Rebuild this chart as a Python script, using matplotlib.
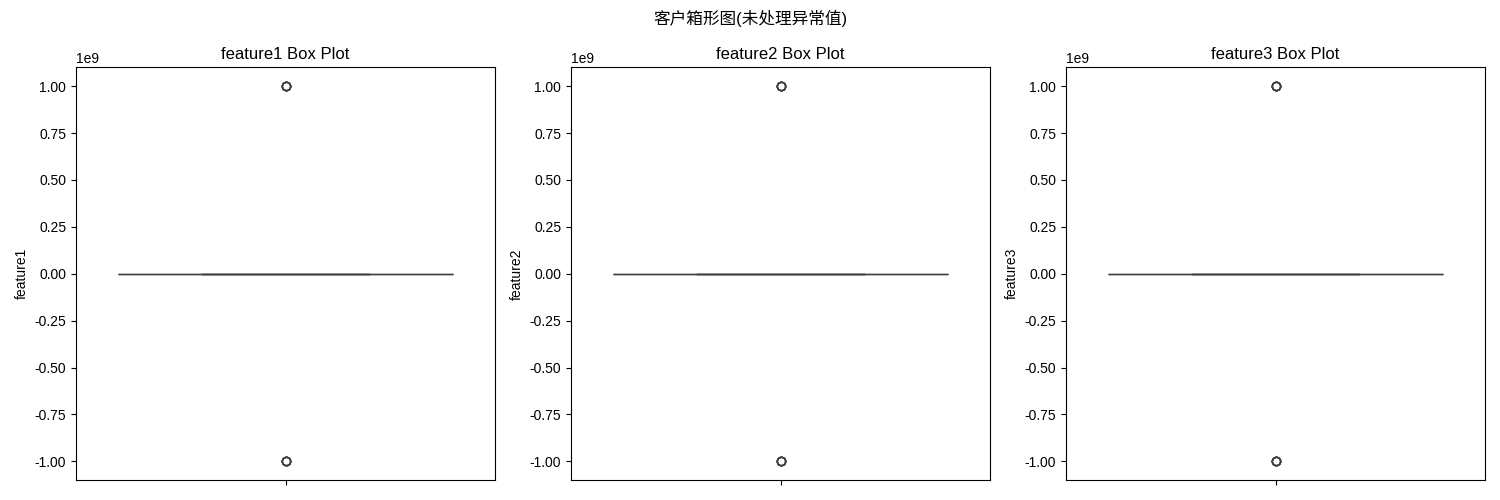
import matplotlib
matplotlib.use("Agg")
import matplotlib.pyplot as plt
import seaborn as sns
import pandas as pd

plt.rcParams['font.family'] = ['Liberation Sans', 'Noto Sans CJK SC', 'DejaVu Sans']
plt.rcParams['axes.unicode_minus'] = False

features = ["feature1", "feature2", "feature3"]
feature1 = [12, 35, 48, 22, 57, 41, 30, 66, 19, 44, 53, 28, 61, 37, 25, 50, 33, 46, 14, 58,
            1e9, 1e9, 1e9, 1e9, 1e9, -1e9, -1e9, -1e9, -1e9, -1e9]
feature2 = [25, 31, 44, 58, 17, 62, 39, 47, 21, 55, 36, 29, 52, 43, 16, 60, 27, 49, 34, 40,
            1e9, 1e9, 1e9, 1e9, 1e9, -1e9, -1e9, -1e9, -1e9, -1e9]
feature3 = [40, 18, 27, 51, 63, 34, 45, 22, 59, 38, 49, 31, 26, 55, 42, 13, 64, 36, 47, 20,
            1e9, 1e9, 1e9, 1e9, 1e9, -1e9, -1e9, -1e9, -1e9, -1e9]
df = pd.DataFrame({"feature1": feature1, "feature2": feature2, "feature3": feature3})

fig, axes = plt.subplots(1, 3, figsize=(15, 5), dpi=100)
for ax, col in zip(axes, features):
    sns.boxplot(y=df[col], ax=ax)
    ax.set_title(f"{col} Box Plot", fontsize=12)
fig.suptitle("客户箱形图(未处理异常值)", fontsize=12)
plt.tight_layout()
plt.savefig("out.png")
